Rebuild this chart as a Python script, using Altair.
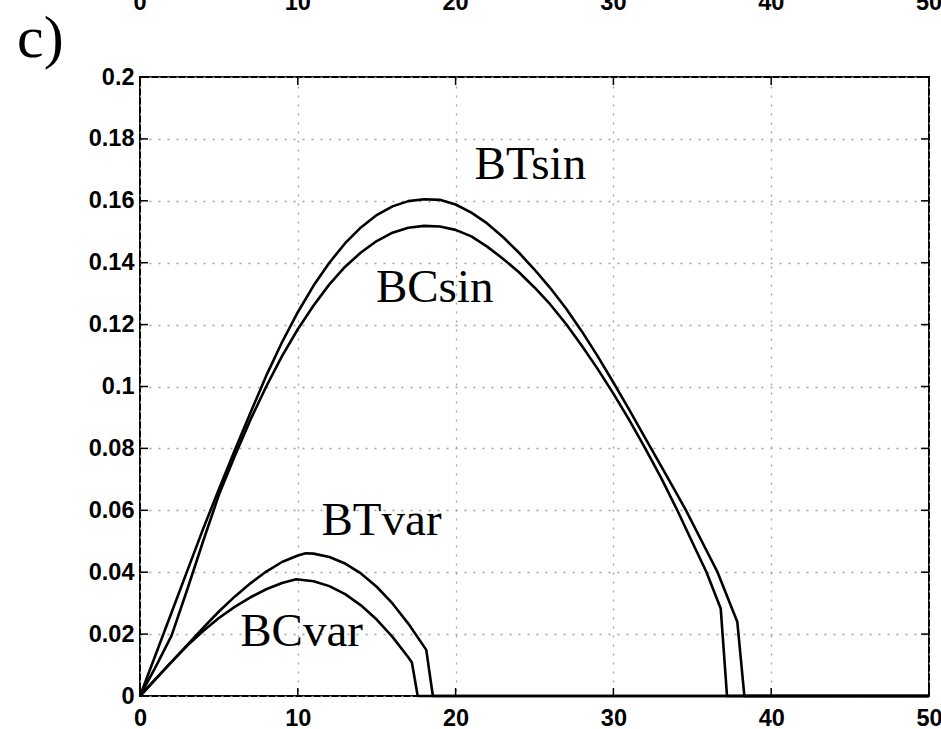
import altair as alt
import pandas as pd

# Curves (x, y) for the four cases
bt_sin_x = [0, 1, 2, 3, 4, 5, 6, 7, 8, 9, 10, 11, 12, 13, 14, 15, 16, 17, 18, 19, 20, 21, 22,
            23, 24, 25, 26, 27, 28, 29, 30, 31, 32, 33, 34, 34.6, 35.6, 36.6, 37.85, 38.3, 50]
bt_sin_y = [0, 0.0135, 0.027, 0.0405, 0.054, 0.0668, 0.0793, 0.0915, 0.1035, 0.1143, 0.124,
            0.1326, 0.14, 0.1463, 0.1514, 0.1554, 0.1582, 0.1599, 0.1605, 0.1603, 0.1588, 0.1562,
            0.1527, 0.1483, 0.1433, 0.1378, 0.1318, 0.1252, 0.1178, 0.1098, 0.1013, 0.0925,
            0.0835, 0.0745, 0.0655, 0.06, 0.05, 0.04, 0.024, 0, 0]

bc_sin_x = [0, 1, 2, 3, 4, 5, 6, 7, 8, 9, 10, 11, 12, 13, 14, 15, 16, 17, 18, 19, 20, 21, 22,
            23, 24, 25, 26, 27, 28, 29, 30, 31, 32, 33, 34.05, 35.0, 35.9, 36.8, 37.2, 50]
bc_sin_y = [0, 0.0095, 0.0195, 0.0345, 0.05, 0.065, 0.0775, 0.0893, 0.1, 0.1098, 0.1185,
            0.1262, 0.133, 0.1387, 0.1433, 0.147, 0.1497, 0.1513, 0.1519, 0.1517, 0.1506,
            0.1485, 0.1452, 0.1413, 0.137, 0.132, 0.1265, 0.1202, 0.1132, 0.1057, 0.0977,
            0.0892, 0.0802, 0.0707, 0.06, 0.0497, 0.04, 0.0283, 0, 0]

bt_var_x = [0, 1, 2, 3, 4, 5, 6, 7, 8, 9, 10, 10.5, 11, 12, 13, 14, 15, 16, 17, 18.14, 18.56, 50]
bt_var_y = [0, 0.0055, 0.011, 0.0165, 0.022, 0.0273, 0.0321, 0.0364, 0.0402, 0.0433, 0.0454,
            0.0461, 0.046, 0.0449, 0.0428, 0.0396, 0.0353, 0.0299, 0.0234, 0.0149, 0, 0]

bc_var_x = [0, 1, 2, 3, 4, 5, 6, 7, 8, 9, 9.9, 11, 12, 13, 14, 15, 16, 17, 17.23, 17.6, 50]
bc_var_y = [0, 0.0055, 0.011, 0.0163, 0.021, 0.0252, 0.0288, 0.0319, 0.0345, 0.0365, 0.0377,
            0.0371, 0.0355, 0.0329, 0.0293, 0.0247, 0.0191, 0.0125, 0.0108, 0, 0]

# Curve annotations
label_text = ["BTsin", "BCsin", "BTvar", "BCvar"]
label_x = [21.2, 14.95, 11.5, 6.35]
label_y = [0.167, 0.1274, 0.052, 0.0162]

# Axis ticks
x_ticks = [0, 10, 20, 30, 40, 50]
y_ticks = [0, 0.02, 0.04, 0.06, 0.08, 0.1, 0.12, 0.14, 0.16, 0.18, 0.2]

W, H = 789, 619
TICK = 8
LABEL_SIZE = 23.5

rows = []
for name, xs, ys in [("BTsin", bt_sin_x, bt_sin_y), ("BCsin", bc_sin_x, bc_sin_y),
                     ("BTvar", bt_var_x, bt_var_y), ("BCvar", bc_var_x, bc_var_y)]:
    for i, (a, b) in enumerate(zip(xs, ys)):
        rows.append({"series": name, "i": i, "x": a, "y": b})
curves = pd.DataFrame(rows)
labels = pd.DataFrame({"text": label_text, "x": label_x, "y": label_y})
xt = pd.DataFrame({"x": x_ticks})
yt = pd.DataFrame({"y": y_ticks})

xscale = alt.Scale(domain=[0, 50], nice=False, zero=False)
yscale = alt.Scale(domain=[0, 0.2], nice=False, zero=False)

x_axis = alt.Axis(values=x_ticks, grid=True, ticks=False, domain=False, title=None,
                  labelPadding=10, labelFlush=False, labelOverlap=False, format="d")
y_axis = alt.Axis(values=y_ticks, grid=True, ticks=False, domain=False, title=None,
                  labelPadding=6, labelFlush=False, labelOverlap=False, format="~g")

lines = alt.Chart(curves).mark_line(color="black", strokeWidth=2.6, strokeJoin="round").encode(
    x=alt.X("x:Q", scale=xscale, axis=x_axis),
    y=alt.Y("y:Q", scale=yscale, axis=y_axis),
    detail="series:N",
    order="i:Q",
)

text = alt.Chart(labels).mark_text(font="Liberation Serif", fontSize=47, align="left",
                                   baseline="alphabetic", color="black").encode(
    x=alt.X("x:Q", scale=xscale), y=alt.Y("y:Q", scale=yscale), text="text:N")

# Inward tick marks on all four sides
tick_style = dict(color="black", strokeWidth=1.5)
yt_left = alt.Chart(yt).mark_rule(**tick_style).encode(
    y=alt.Y("y:Q", scale=yscale), x=alt.value(0), x2=alt.value(TICK))
yt_right = alt.Chart(yt).mark_rule(**tick_style).encode(
    y=alt.Y("y:Q", scale=yscale), x=alt.value(W), x2=alt.value(W - TICK))
xt_bottom = alt.Chart(xt).mark_rule(**tick_style).encode(
    x=alt.X("x:Q", scale=xscale), y=alt.value(H), y2=alt.value(H - TICK))
xt_top = alt.Chart(xt).mark_rule(**tick_style).encode(
    x=alt.X("x:Q", scale=xscale), y=alt.value(0), y2=alt.value(TICK))

# Tick labels of the panel above, cut by the page edge
top_labels = alt.Chart(xt).mark_text(font="Liberation Sans", fontSize=LABEL_SIZE, fontWeight="bold",
                                     align="center", baseline="alphabetic", color="black").encode(
    x=alt.X("x:Q", scale=xscale), y=alt.value(-67), text=alt.Text("x:Q", format="d"))

panel = alt.Chart(pd.DataFrame({"t": ["c)"]})).mark_text(
    font="Liberation Serif", fontSize=60, align="left", baseline="alphabetic", color="black"
).encode(x=alt.value(-123), y=alt.value(-20), text="t:N")

chart = alt.layer(lines, text, yt_left, yt_right, xt_bottom, xt_top, top_labels, panel).properties(
    width=W, height=H,
    autosize=alt.AutoSizeParams(type="none"),
    padding={"left": 140, "top": 77, "right": 12, "bottom": 33},
    background="white",
).configure_view(stroke="black", strokeWidth=2).configure_axis(
    labelFont="Liberation Sans", labelFontSize=LABEL_SIZE, labelFontWeight="bold", labelColor="black",
    gridColor="#a0a0a0", gridDash=[2, 7], gridWidth=1.3,
)

chart.save("out.html", embed_options={"renderer": "svg", "actions": False})
